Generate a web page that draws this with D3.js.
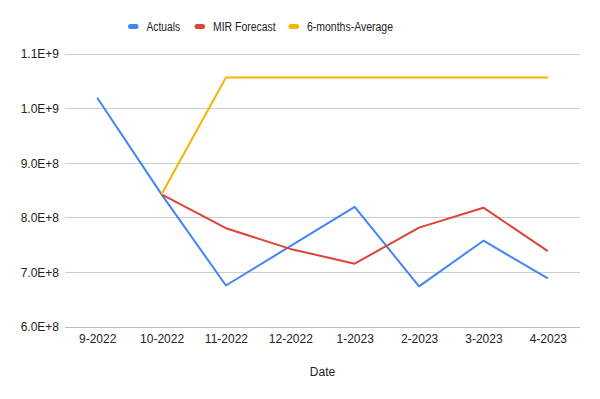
<!DOCTYPE html>
<html><head><meta charset="utf-8">
<script src="https://cdn.jsdelivr.net/npm/d3@7"></script>
<style>body{margin:0;background:#fff}svg{display:block;font-family:Arial,"Liberation Sans",sans-serif}</style>
</head><body><svg id="c" width="600" height="399"></svg>
<script>
const categories = ["9-2022","10-2022","11-2022","12-2022","1-2023","2-2023","3-2023","4-2023"];
const actuals = [1.020e9, 8.43e8, 6.76e8, 7.48e8, 8.20e8, 6.745e8, 7.58e8, 6.89e8];
const mirForecast = [null, 8.43e8, 7.81e8, 7.43e8, 7.16e8, 7.82e8, 8.185e8, 7.39e8];
const sixMonthAvg = [null, 8.43e8, 1.057e9, 1.057e9, 1.057e9, 1.057e9, 1.057e9, 1.057e9];
const yTicks = [6e8, 7e8, 8e8, 9e8, 1.0e9, 1.1e9];
const yTickLabels = ["6.0E+8","7.0E+8","8.0E+8","9.0E+8","1.0E+9","1.1E+9"];
const seriesNames = ["Actuals","MIR Forecast","6-months-Average"];
const colors = ["#4285F4","#DB4437","#F4B400"];

const svg = d3.select("#c");
const L = 65, R = 580, T = 54, B = 327;
const x = d3.scalePoint().domain(categories).range([L, R]).padding(0.5);
const y = d3.scaleLinear().domain([6e8, 1.1e9]).range([B, T]);

svg.append("g").selectAll("line").data(yTicks).join("line")
  .attr("x1", L).attr("x2", R).attr("y1", d => y(d)).attr("y2", d => y(d))
  .attr("stroke", d => d === 6e8 ? "#bdbdbd" : "#cccccc").attr("stroke-width", 1)
  .attr("shape-rendering", "crispEdges");

const yAxis = d3.axisLeft(y).tickValues(yTicks).tickFormat((d,i) => yTickLabels[i]).tickSize(0).tickPadding(0);
const gy = svg.append("g").attr("transform", `translate(${59},0)`).call(yAxis);
gy.select(".domain").remove();
gy.selectAll("text").attr("fill", "#222").attr("font-size", 12).attr("font-family", "Arial, 'Liberation Sans', sans-serif");

const xAxis = d3.axisBottom(x).tickSize(0).tickPadding(0);
const gx = svg.append("g").attr("transform", `translate(0,${334})`).call(xAxis);
gx.select(".domain").remove();
gx.selectAll("text").attr("fill", "#222").attr("font-size", 12).attr("font-family", "Arial, 'Liberation Sans', sans-serif");

svg.append("text").attr("x", (L + R) / 2).attr("y", 376).attr("text-anchor", "middle")
  .attr("font-size", 12).attr("fill", "#222").text("Date");

const line = d3.line().defined(d => d[1] != null).x(d => x(d[0])).y(d => y(d[1]));
[actuals, mirForecast, sixMonthAvg].forEach((s, i) => {
  svg.append("path").datum(categories.map((c, j) => [c, s[j]]))
    .attr("d", line).attr("fill", "none").attr("stroke", colors[i])
    .attr("stroke-width", 2).attr("stroke-linejoin", "round");
});

const lg = svg.append("g");
const legendX = [128, 194.5, 288.5];
const legendW = [33.6, 62.7, 86];
seriesNames.forEach((n, i) => {
  const g = lg.append("g").attr("transform", `translate(${legendX[i]},26.5)`);
  g.append("rect").attr("x", 0).attr("y", -2.5).attr("width", 10.5).attr("height", 5).attr("rx", 2.5).attr("fill", colors[i]);
  g.append("text").attr("x", 18.5).attr("y", 4.2).attr("font-size", 12).attr("fill", "#222")
    .attr("textLength", legendW[i]).attr("lengthAdjust", "spacingAndGlyphs").text(n);
});
</script></body></html>
